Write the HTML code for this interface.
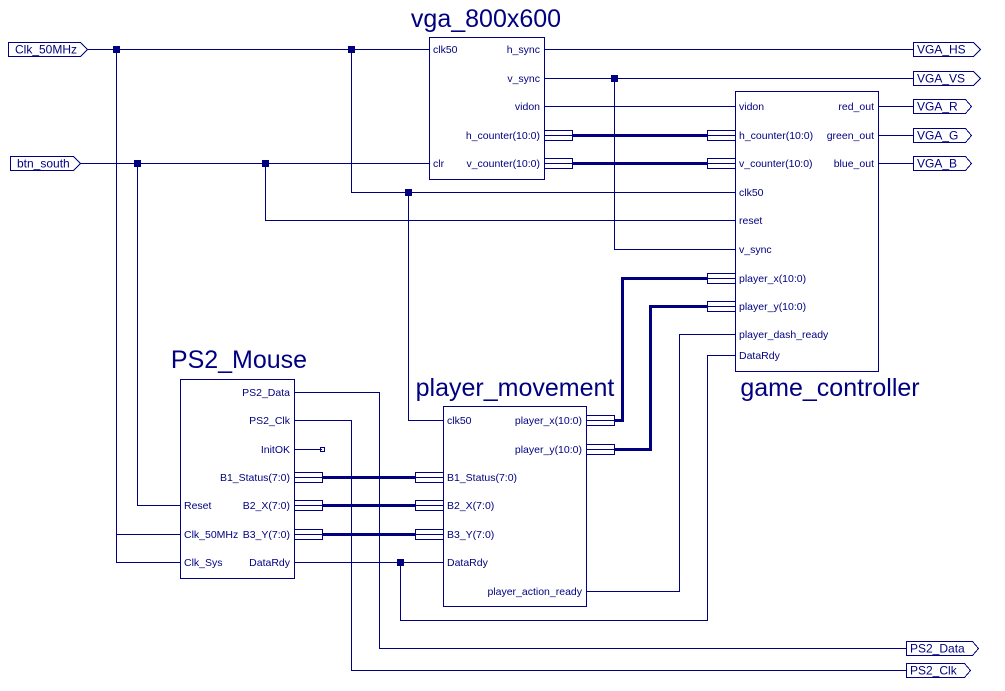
<!DOCTYPE html>
<html><head><meta charset="utf-8"><style>
body{margin:0;background:#fff;}
svg{display:block;font-family:"Liberation Sans",Arial,sans-serif;}
text{fill:#000080;font-size:10.5px;}
.t{font-size:25px;}
</style></head><body>
<svg width="1005" height="691" viewBox="0 0 1005 691" xmlns="http://www.w3.org/2000/svg">
<g stroke="#000080" fill="none" stroke-width="1" shape-rendering="crispEdges">
<rect x="429.5" y="37.5" width="115" height="142"/>
<rect x="735.5" y="91.5" width="143" height="280"/>
<rect x="180.5" y="379.5" width="114" height="199"/>
<rect x="443.5" y="406.5" width="143" height="200"/>
<path d="M8.5 42.5H80.5L87.5 49.5L80.5 56.5H8.5Z"/>
<path d="M10.5 156.5H73.5L80.5 163.5L73.5 170.5H10.5Z"/>
<path d="M913.5 42.5H973.5L980.5 49.5L973.5 56.5H913.5Z"/>
<path d="M913.5 71.5H973.5L980.5 78.5L973.5 85.5H913.5Z"/>
<path d="M913.5 99.5H965.5L971.5 106.5L965.5 113.5H913.5Z"/>
<path d="M913.5 128.5H965.5L971.5 135.5L965.5 142.5H913.5Z"/>
<path d="M913.5 156.5H965.5L971.5 163.5L965.5 170.5H913.5Z"/>
<path d="M906.5 641.5H972.5L978.5 648.5L972.5 655.5H906.5Z"/>
<path d="M906.5 663.5H964.5L970.5 670.5L964.5 677.5H906.5Z"/>
<path d="M87 49.5H429M544 49.5H913M544 78.5H913M544 106.5H735M878 106.5H913M878 135.5H913M878 163.5H913"/>
<path d="M80 163.5H429"/>
<path d="M116.5 49V562.5H180M116 534.5H180M137.5 163V505.5H180"/>
<path d="M351.5 49V192.5H735M408.5 192V420.5H443M265.5 163V220.5H735M614.5 78V249.5H735"/>
<path d="M294 392.5H379.5V648.5H906M294 420.5H351.5V670.5H906M294 449.5H322"/>
<path d="M294 562.5H443M400.5 562V620.5H707.5V355.5H735M586 591.5H679.5V334.5H735"/>
<g>
<rect x="544.5" y="130.5" width="28" height="10"/><path d="M544 135.5H572"/>
<rect x="544.5" y="158.5" width="28" height="10"/><path d="M544 163.5H572"/>
<rect x="707.5" y="130.5" width="28" height="10"/><path d="M707 135.5H735"/>
<rect x="707.5" y="158.5" width="28" height="10"/><path d="M707 163.5H735"/>
<rect x="707.5" y="273.5" width="28" height="10"/><path d="M707 278.5H735"/>
<rect x="707.5" y="301.5" width="28" height="10"/><path d="M707 306.5H735"/>
<rect x="294.5" y="472.5" width="28" height="10"/><path d="M294 477.5H322"/>
<rect x="294.5" y="500.5" width="28" height="10"/><path d="M294 505.5H322"/>
<rect x="294.5" y="529.5" width="28" height="10"/><path d="M294 534.5H322"/>
<rect x="415.5" y="472.5" width="28" height="10"/><path d="M415 477.5H443"/>
<rect x="415.5" y="500.5" width="28" height="10"/><path d="M415 505.5H443"/>
<rect x="415.5" y="529.5" width="28" height="10"/><path d="M415 534.5H443"/>
<rect x="586.5" y="415.5" width="28" height="10"/><path d="M586 420.5H614"/>
<rect x="586.5" y="444.5" width="28" height="10"/><path d="M586 449.5H614"/>
</g>
<g stroke-width="3">
<path d="M572 135.5H707M572 163.5H707M322 477.5H415M322 505.5H415M322 534.5H415"/>
<path d="M614 420.5H622.5V278.5H707M614 449.5H650.5V306.5H707"/>
</g>
<rect x="320.5" y="447.5" width="4" height="4"/>
</g>
<g fill="#000080">
<rect x="113" y="46" width="7" height="7"/>
<rect x="348" y="46" width="7" height="7"/>
<rect x="134" y="160" width="7" height="7"/>
<rect x="262" y="160" width="7" height="7"/>
<rect x="611" y="75" width="7" height="7"/>
<rect x="405" y="189" width="7" height="7"/>
<rect x="397" y="559" width="7" height="7"/>
</g>
<text x="15" y="53.5" style="font-size:12px">Clk_50MHz</text>
<text x="17" y="167.5" style="font-size:12px">btn_south</text>
<text x="917" y="53.5" style="font-size:12px">VGA_HS</text>
<text x="917" y="82.5" style="font-size:12px">VGA_VS</text>
<text x="917" y="110.5" style="font-size:12px">VGA_R</text>
<text x="917" y="139.5" style="font-size:12px">VGA_G</text>
<text x="917" y="167.5" style="font-size:12px">VGA_B</text>
<text x="910" y="652.5" style="font-size:12px">PS2_Data</text>
<text x="910" y="674.5" style="font-size:12px">PS2_Clk</text>

<text class="t" x="486" y="27" text-anchor="middle">vga_800x600</text>
<text class="t" x="830" y="396" text-anchor="middle">game_controller</text>
<text class="t" x="239" y="368" text-anchor="middle">PS2_Mouse</text>
<text class="t" x="515" y="396" text-anchor="middle">player_movement</text>

<text x="433" y="53">clk50</text>
<text x="433" y="167">clr</text>
<g text-anchor="end">
<text x="540" y="53">h_sync</text>
<text x="540" y="82">v_sync</text>
<text x="540" y="110">vidon</text>
<text x="540" y="139">h_counter(10:0)</text>
<text x="540" y="167">v_counter(10:0)</text>
<text x="874" y="110">red_out</text>
<text x="874" y="139">green_out</text>
<text x="874" y="167">blue_out</text>
<text x="290" y="396">PS2_Data</text>
<text x="290" y="424">PS2_Clk</text>
<text x="290" y="453">InitOK</text>
<text x="290" y="481">B1_Status(7:0)</text>
<text x="290" y="509">B2_X(7:0)</text>
<text x="290" y="538">B3_Y(7:0)</text>
<text x="290" y="566">DataRdy</text>
<text x="582" y="424">player_x(10:0)</text>
<text x="582" y="453">player_y(10:0)</text>
<text x="582" y="595">player_action_ready</text>
</g>
<text x="739" y="110">vidon</text>
<text x="739" y="139">h_counter(10:0)</text>
<text x="739" y="167">v_counter(10:0)</text>
<text x="739" y="196">clk50</text>
<text x="739" y="224">reset</text>
<text x="739" y="253">v_sync</text>
<text x="739" y="282">player_x(10:0)</text>
<text x="739" y="310">player_y(10:0)</text>
<text x="739" y="338">player_dash_ready</text>
<text x="739" y="359">DataRdy</text>
<text x="184" y="509">Reset</text>
<text x="184" y="538">Clk_50MHz</text>
<text x="184" y="566">Clk_Sys</text>
<text x="447" y="424">clk50</text>
<text x="447" y="481">B1_Status(7:0)</text>
<text x="447" y="509">B2_X(7:0)</text>
<text x="447" y="538">B3_Y(7:0)</text>
<text x="447" y="566">DataRdy</text>
</svg>
</body></html>
